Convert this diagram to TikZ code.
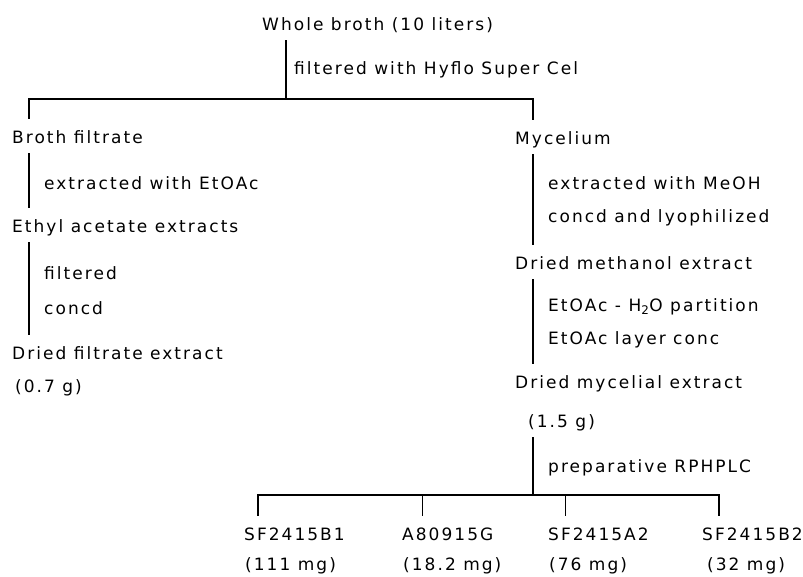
\documentclass[tikz,border=0pt]{standalone}
\usepackage{fontspec}
\setmainfont{DejaVu Sans}[LetterSpace=12]
\usetikzlibrary{positioning}

\begin{document}
\begin{tikzpicture}[x=1pt, y=-1pt,
   stage/.style={anchor=west, inner xsep=0pt, inner ysep=9.5pt,
         text height=15pt, text depth=0pt, font=\fontsize{17}{20}\selectfont},
   howto/.style={stage},
   link/.style={line width=1.2pt},
   drop/.style={line width=1pt},
  ]
  \useasboundingbox (0,0) rectangle (803,576);

  % columns of the flow lines
  \coordinate (lcol) at (29,0);
  \coordinate (rcol) at (533,0);
  \coordinate (split) at (286,99);
  \coordinate (fork) at (533,495);
  \coordinate (d1) at (258,0);
  \coordinate (d2) at (422,0);
  \coordinate (d3) at (565,0);
  \coordinate (d4) at (719,0);

  \node[stage] (whole) at (262,23) {Whole broth (10 liters)};
  \node[howto] (hyflo) at (294,67) {filtered with Hyflo Super Cel};

  % filtrate side
  \node[stage] (broth) at (12,136) {Broth filtrate};
  \node[howto] (etoac) at (44,182) {extracted with EtOAc};
  \node[stage] (ethyl) at (12,225) {Ethyl acetate extracts};
  \node[howto] (filt) at (44,272) {filtered};
  \node[howto] (concd) at (44,307) {concd};
  \node[stage] (dfilt) at (12,352) {Dried filtrate extract};
  \node[stage] (mass07) at (15,385) {(0.7 g)};

  % mycelium side
  \node[stage] (myc) at (515,137) {Mycelium};
  \node[howto] (meoh) at (548,182) {extracted with MeOH};
  \node[howto] (lyo) at (548,215) {concd and lyophilized};
  \node[stage] (dmeth) at (515,262) {Dried methanol extract};
  \node[howto] (part) at (548,304) {EtOAc - H\textsubscript{2}O partition};
  \node[howto] (layer) at (548,337) {EtOAc layer conc};
  \node[stage] (dmyc) at (515,381) {Dried mycelial extract};
  \node[stage] (mass15) at (528,420) {(1.5 g)};
  \node[howto] (rphplc) at (548,465) {preparative RPHPLC};

  % fractions
  \node[stage] (sfb1) at (244,533) {SF2415B1};
  \node[stage] (a809) at (402,533) {A80915G};
  \node[stage] (sfa2) at (548,533) {SF2415A2};
  \node[stage] (sfb2) at (702,533) {SF2415B2};
  \node[stage] (m111) at (245,563) {(111 mg)};
  \node[stage] (m182) at (403,563) {(18.2 mg)};
  \node[stage] (m76) at (549,563) {(76 mg)};
  \node[stage] (m32) at (707,563) {(32 mg)};

  \draw[link] (whole.south -| split) -- (split);
  \draw[link] (broth.north -| lcol) |- (split) -| (myc.north -| rcol);
  \draw[link] (broth.south -| lcol) -- (ethyl.north -| lcol);
  \draw[link] (ethyl.south -| lcol) -- (dfilt.north -| lcol);
  \draw[link] (myc.south -| rcol) -- (dmeth.north -| rcol);
  \draw[link] (dmeth.south -| rcol) -- (dmyc.north -| rcol);
  \draw[link] (mass15.south -| rcol) -- (fork);
  \draw[link] (sfb1.north -| d1) |- (fork) -| (sfb2.north -| d4);
  \draw[drop] (fork -| d2) -- (a809.north -| d2);
  \draw[drop] (fork -| d3) -- (sfa2.north -| d3);
 \end{tikzpicture}
\end{document}
